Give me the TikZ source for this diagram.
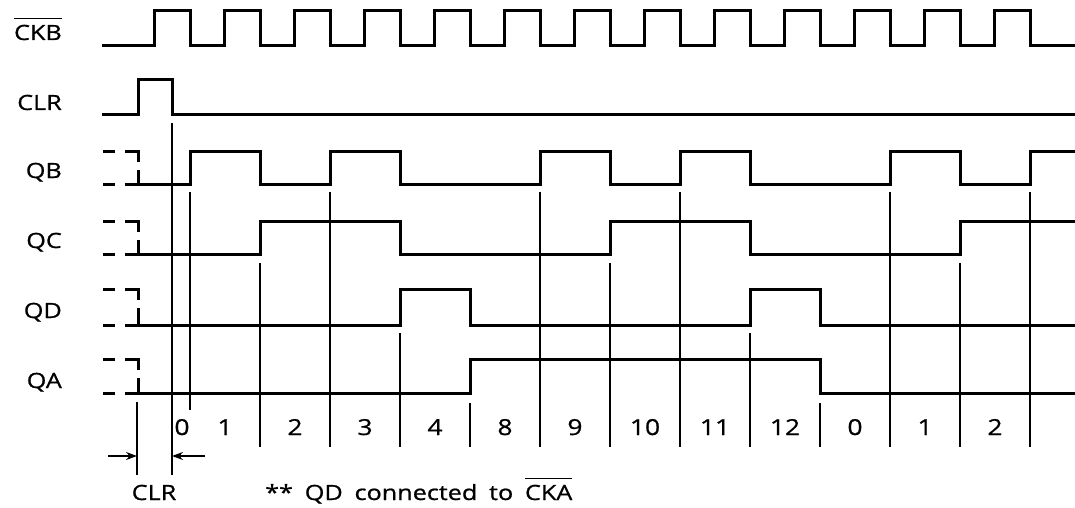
\documentclass[tikz,border=0pt]{standalone}
\usepackage{fontspec}
\setmainfont{Open Sans}[FakeStretch=1.2,FakeBold=0.8,WordSpace=1.8]
\usetikzlibrary{arrows.meta}
\newcommand\ovl[1]{\setbox0=\hbox{#1}\rlap{\rule[\dimexpr\ht0+5.5pt\relax]{\wd0}{1.1pt}}\box0}
\tikzset{
	sig/.style={line width=3pt},
	thin/.style={line width=1.3pt},
	lbl/.style={anchor=base east, inner sep=0pt, font=\fontsize{21}{25}\selectfont},
	num/.style={anchor=base, inner sep=0pt, font=\fontsize{22}{26}\selectfont},
}
\begin{document}
\begin{tikzpicture}[x=1pt,y=-1pt]
	\useasboundingbox (0,0) rectangle (1075,508);
	% signal names
	\node[lbl] (nCKB) at (62,40) {\ovl{CKB}};
	\node[lbl] (nCLR) at (62,110) {CLR};
	\node[lbl] (nQB) at (62,178) {QB};
	\node[lbl] (nQC) at (62,248) {QC};
	\node[lbl] (nQD) at (62,318) {QD};
	\node[lbl] (nQA) at (62,388) {QA};
	% clock
	\draw[sig] (102,46) \foreach \k in {0,...,12} {
		-- ({154+70*\k},46) -- ({154+70*\k},11) -- ({190+70*\k},11) -- ({190+70*\k},46)
	} -- (1075,46);
	\draw[sig] (102,115) -- (138,115) -- (138,80) -- (172,80) -- (172,115) -- (1075,115);
	% unknown state before clear
	\foreach \h/\l in {151/184,221/254,289/325,359/393} {
		\draw[sig] (103,\h) -- (115,\h);
		\draw[sig] (125,\h) -- (138,\h) -- (138,\h+11);
		\draw[sig] (138,\h+19) -- (138,\l);
		\draw[sig] (103,\l) -- (115,\l);
	}
	\draw[sig] (125,184) -- (190,184) -- (190,151) -- (260,151) -- (260,184)
	-- (330,184) -- (330,151) -- (400,151) -- (400,184) -- (540,184)
	-- (540,151) -- (610,151) -- (610,184) -- (680,184) -- (680,151)
	-- (750,151) -- (750,184) -- (890,184) -- (890,151) -- (960,151)
	-- (960,184) -- (1030,184) -- (1030,151) -- (1075,151);
	\draw[sig] (125,254) -- (260,254) -- (260,221) -- (400,221) -- (400,254)
	-- (610,254) -- (610,221) -- (750,221) -- (750,254) -- (960,254)
	-- (960,221) -- (1075,221);
	\draw[sig] (125,325) -- (400,325) -- (400,289) -- (470,289) -- (470,325)
	-- (750,325) -- (750,289) -- (820,289) -- (820,325) -- (1075,325);
	\draw[sig] (125,393) -- (470,393) -- (470,359) -- (820,359) -- (820,393)
	-- (1075,393);
	% edge markers
	\draw[thin] (172,123) -- (172,475);
	\draw[thin] (190,192) -- (190,410);
	\foreach \x in {330,540,680,890,1030} \draw[thin] (\x,192) -- (\x,447);
	\foreach \x in {260,610,960} \draw[thin] (\x,263) -- (\x,447);
	\foreach \x in {400,750} \draw[thin] (\x,333) -- (\x,447);
	\foreach \x in {470,820} \draw[thin] (\x,403) -- (\x,447);
	% count
	\node[num] (c0) at (182,435) {0};
	\foreach \n [count=\i] in {1,2,3,4,8,9,10,11,12,0,1,2}
		\node[num] (c\i) at ({155+70*\i},435) {\n};
	% clear width
	\draw[thin] (137,402) -- (137,475);
	\coordinate (clrL) at (137,456);
	\coordinate (clrR) at (172,456);
	\draw[thin,-{Stealth[length=11pt,width=8pt]}] (108,456) -- (clrL);
	\draw[thin,-{Stealth[length=11pt,width=8pt]}] (205,456) -- (clrR);
	\node[num,font=\fontsize{21}{25}\selectfont] (wCLR) at (154,500) {CLR};
	\node[num,anchor=base west,font=\fontsize{21}{25}\selectfont] (note) at (265,500) {** QD connected to \ovl{CKA}};
\end{tikzpicture}
\end{document}
